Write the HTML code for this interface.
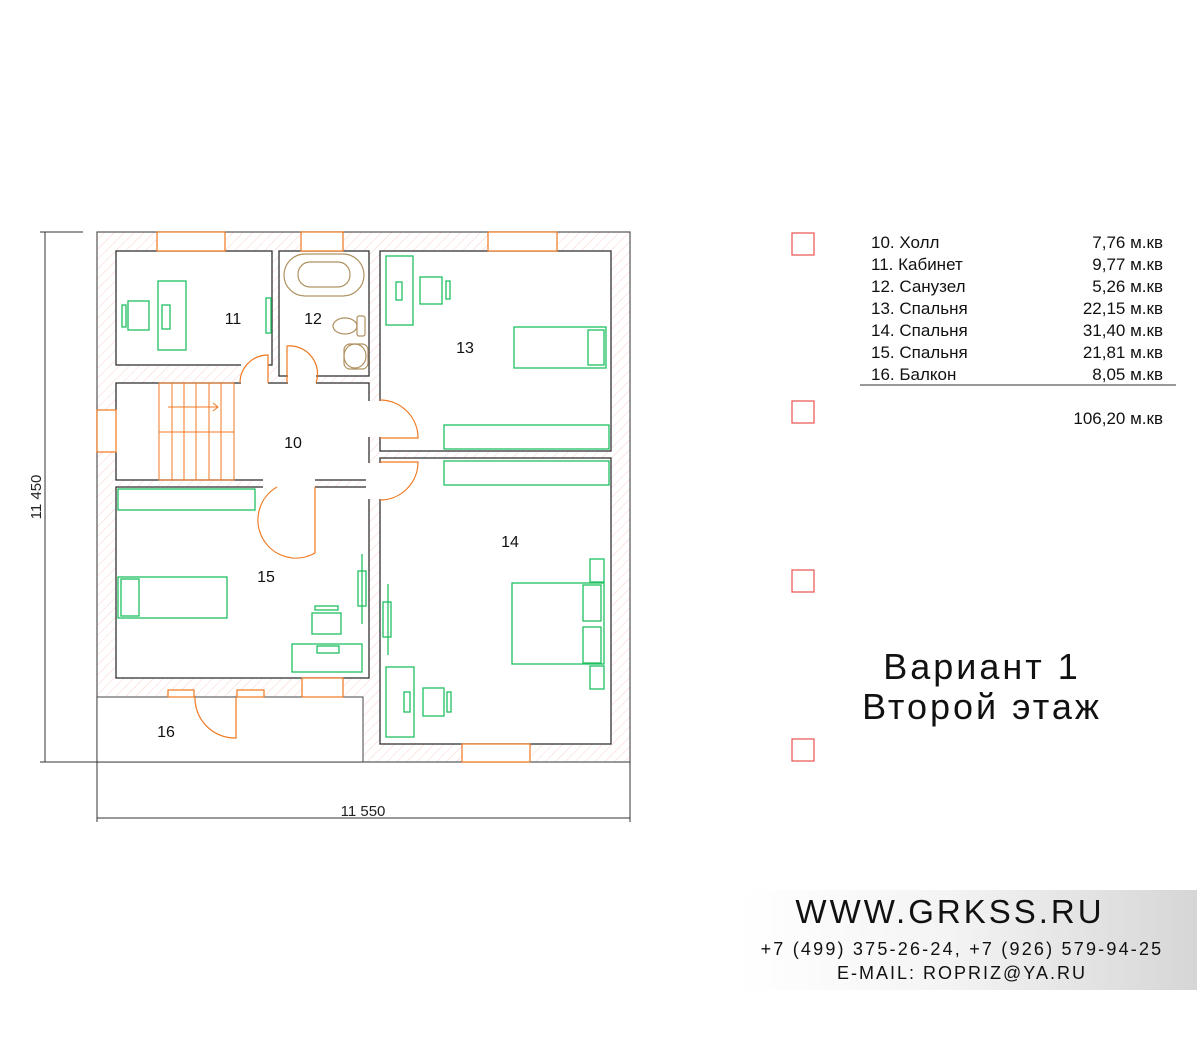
<!DOCTYPE html>
<html><head><meta charset="utf-8"><style>
body{margin:0;background:#fff;width:1200px;height:1050px;overflow:hidden;font-family:"Liberation Sans",sans-serif;}
</style></head><body>
<svg width="1200" height="1050" viewBox="0 0 1200 1050" xmlns="http://www.w3.org/2000/svg" font-family="Liberation Sans, DejaVu Sans, sans-serif">
<defs>
<pattern id="h" width="7" height="7" patternUnits="userSpaceOnUse" patternTransform="rotate(45)">
<rect width="7" height="7" fill="#fff"/><line x1="0" y1="0" x2="0" y2="7" stroke="#f8d2ce" stroke-width="1"/></pattern>
<linearGradient id="g" x1="0" x2="1"><stop offset="0" stop-color="#fff"/><stop offset="0.45" stop-color="#f4f4f4"/><stop offset="1" stop-color="#d6d6d6"/></linearGradient>
</defs>
<rect x="740" y="890" width="457" height="100" fill="url(#g)"/>
<rect x="97" y="232" width="533" height="530" fill="url(#h)" stroke="#555" stroke-width="1.2"/>
<rect x="97" y="697" width="266" height="65" fill="#fff" stroke="#444" stroke-width="1"/>
<g fill="#fff" stroke="#333" stroke-width="1.3">
<rect x="116" y="251" width="156" height="114"/>
<rect x="279" y="251" width="90" height="125"/>
<rect x="380" y="251" width="231" height="200"/>
<rect x="380" y="458" width="231" height="286"/>
<rect x="116" y="383" width="253" height="97"/>
<rect x="116" y="487" width="253" height="191"/>
</g>
<g fill="#fff">
<rect x="241" y="362" width="27" height="25"/>
<rect x="288" y="372" width="28" height="15"/>
<rect x="263" y="476" width="52" height="16"/>
<rect x="366" y="401" width="18" height="36"/>
<rect x="366" y="463" width="18" height="36"/>
<rect x="98" y="410" width="22" height="42"/>
</g>
<g fill="#fff" stroke="#f07820" stroke-width="1.2">
<rect x="157" y="232" width="68" height="19"/>
<rect x="301" y="232" width="42" height="19"/>
<rect x="488" y="232" width="69" height="19"/>
<rect x="462" y="744" width="68" height="18"/>
<rect x="97" y="410" width="19" height="42"/>
<rect x="302" y="678" width="41" height="19"/>
<rect x="168" y="690" width="26" height="7"/>
<rect x="237" y="690" width="27" height="7"/>
</g>
<g fill="none" stroke="#f07820" stroke-width="1.2">
<path d="M240 383 A28 28 0 0 1 268 355 V383"/>
<path d="M287 383 V346 A28 28 0 0 1 316 383"/>
<path d="M380 400 A38 38 0 0 1 418 438 H380"/>
<path d="M380 462 H418 A38 38 0 0 1 380 500"/>
<path d="M277 487 A38 38 0 0 0 315 553 V487"/>
<path d="M195 697 A40 40 0 0 0 236 738 V697"/>
</g>
<g fill="none" stroke="#f07820" stroke-width="1">
<rect x="159" y="383" width="75" height="97"/>
<line x1="172" y1="383" x2="172" y2="480"/><line x1="184" y1="383" x2="184" y2="480"/><line x1="196" y1="383" x2="196" y2="480"/><line x1="209" y1="383" x2="209" y2="480"/><line x1="221" y1="383" x2="221" y2="480"/>
<line x1="159" y1="432" x2="234" y2="432"/>
<path d="M168 407 H218 M213 403 L218 407 L213 411"/>
</g>
<g fill="none" stroke="#b09060" stroke-width="1.2">
<rect x="284" y="254" width="80" height="42" rx="21"/>
<rect x="298" y="262" width="52" height="25" rx="12"/>
<ellipse cx="345" cy="326" rx="12" ry="8"/><rect x="357" y="316" width="8" height="20" rx="2"/>
<ellipse cx="355" cy="356" rx="11" ry="12"/><rect x="344" y="344" width="24" height="25" rx="6"/>
</g>
<g fill="none" stroke="#1ec060" stroke-width="1.3">
<rect x="158" y="281" width="28" height="69"/>
<rect x="128" y="301" width="21" height="29"/><rect x="122" y="305" width="4" height="22"/>
<rect x="162" y="305" width="8" height="24"/>
<rect x="266" y="298" width="5" height="35"/>
<rect x="386" y="256" width="27" height="69"/>
<rect x="420" y="277" width="22" height="27"/><rect x="446" y="281" width="4" height="18"/>
<rect x="396" y="282" width="6" height="18"/>
<rect x="514" y="327" width="92" height="41"/><rect x="588" y="330" width="16" height="35"/>
<rect x="444" y="425" width="165" height="24"/>
<rect x="444" y="461" width="165" height="24"/>
<rect x="512" y="583" width="92" height="81"/>
<rect x="583" y="585" width="18" height="36"/><rect x="583" y="627" width="18" height="36"/>
<rect x="590" y="559" width="14" height="23"/><rect x="590" y="666" width="14" height="23"/>
<rect x="386" y="667" width="28" height="70"/>
<rect x="423" y="688" width="21" height="28"/><rect x="447" y="692" width="4" height="20"/>
<rect x="404" y="692" width="6" height="20"/>
<rect x="383" y="602" width="8" height="35"/><line x1="388" y1="584" x2="388" y2="655"/>
<rect x="118" y="489" width="137" height="21"/>
<rect x="118" y="577" width="109" height="41"/><rect x="121" y="579" width="18" height="37"/>
<rect x="292" y="644" width="70" height="28"/>
<rect x="312" y="613" width="29" height="21"/><rect x="315" y="606" width="23" height="4"/>
<rect x="358" y="571" width="8" height="35"/><line x1="362" y1="554" x2="362" y2="624"/>
<rect x="317" y="646" width="22" height="7"/>
</g>
<g font-size="16" fill="#111" text-anchor="middle">
<text x="233" y="324">11</text><text x="313" y="324">12</text><text x="465" y="353">13</text>
<text x="293" y="448">10</text><text x="510" y="547">14</text><text x="266" y="582">15</text><text x="166" y="737">16</text>
</g>
<g stroke="#333" stroke-width="1" fill="none">
<line x1="45" y1="232" x2="45" y2="762"/><line x1="40" y1="232" x2="83" y2="232"/><line x1="40" y1="762" x2="97" y2="762"/>
<line x1="97" y1="762" x2="97" y2="822"/><line x1="630" y1="762" x2="630" y2="822"/><line x1="97" y1="818" x2="630" y2="818"/>
</g>
<text x="0" y="0" font-size="15" fill="#222" transform="translate(41 497) rotate(-90)" text-anchor="middle">11 450</text>
<text x="363" y="816" font-size="15" fill="#222" text-anchor="middle">11 550</text>
<g fill="none" stroke="#e85050" stroke-width="1.2">
<rect x="792" y="233" width="22" height="22"/><rect x="792" y="401" width="22" height="22"/>
<rect x="792" y="570" width="22" height="22"/><rect x="792" y="739" width="22" height="22"/>
</g>
<g font-size="17" fill="#111">
<text x="871" y="248">10. Холл</text><text x="1163" y="248" text-anchor="end">7,76 м.кв</text>
<text x="871" y="270">11. Кабинет</text><text x="1163" y="270" text-anchor="end">9,77 м.кв</text>
<text x="871" y="292">12. Санузел</text><text x="1163" y="292" text-anchor="end">5,26 м.кв</text>
<text x="871" y="314">13. Спальня</text><text x="1163" y="314" text-anchor="end">22,15 м.кв</text>
<text x="871" y="336">14. Спальня</text><text x="1163" y="336" text-anchor="end">31,40 м.кв</text>
<text x="871" y="358">15. Спальня</text><text x="1163" y="358" text-anchor="end">21,81 м.кв</text>
<text x="871" y="380">16. Балкон</text><text x="1163" y="380" text-anchor="end">8,05 м.кв</text>
<text x="1163" y="424" text-anchor="end">106,20 м.кв</text>
</g>
<line x1="860" y1="385" x2="1176" y2="385" stroke="#333" stroke-width="1"/>
<g font-size="36" fill="#111" text-anchor="middle" letter-spacing="3">
<text x="982" y="679">Вариант 1</text><text x="982" y="719">Второй этаж</text>
</g>
<text x="950" y="923" font-size="33" fill="#111" text-anchor="middle" letter-spacing="3">WWW.GRKSS.RU</text>
<text x="962" y="955" font-size="18" fill="#111" text-anchor="middle" letter-spacing="2.2">+7 (499) 375-26-24, +7 (926) 579-94-25</text>
<text x="962" y="979" font-size="18" fill="#111" text-anchor="middle" letter-spacing="2">E-MAIL: ROPRIZ@YA.RU</text>
</svg>
</body></html>
